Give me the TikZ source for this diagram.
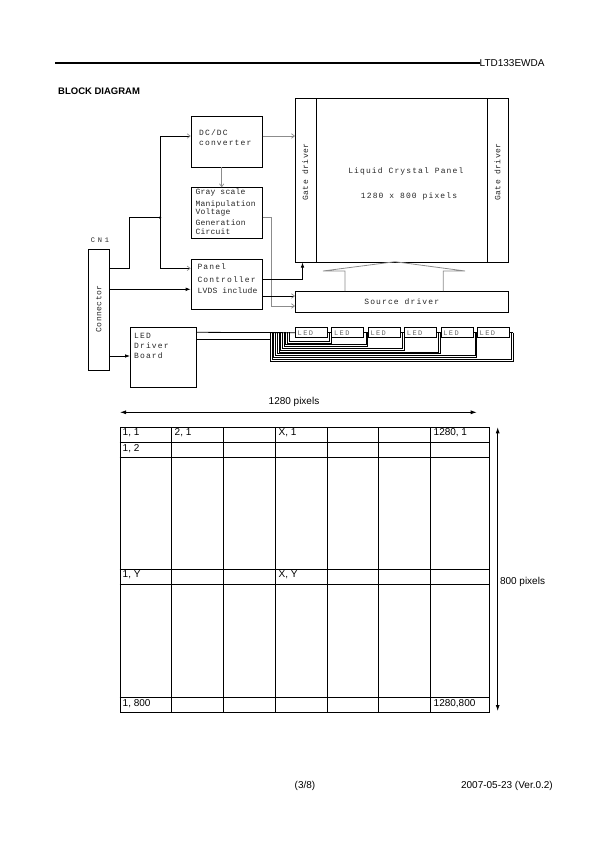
\documentclass[tikz,border=0pt]{standalone}
\usepackage{fontspec}
\setmainfont{Liberation Sans}
\newfontfamily\monowide[LetterSpace=14]{Liberation Mono}
\newfontfamily\monomid[LetterSpace=6]{Liberation Mono}
\newfontfamily\mononarrow[LetterSpace=3]{Liberation Mono}
\newfontfamily\monoled[LetterSpace=20]{Liberation Mono}
\newfontfamily\monocn[LetterSpace=40]{Liberation Mono}
\usetikzlibrary{arrows.meta}
\definecolor{lgray}{gray}{0.55}
\definecolor{txtc}{gray}{0.15}
\begin{document}
\begin{tikzpicture}[x=1pt,y=-1pt,
  blk/.style={draw=black,line width=0.8pt,inner sep=0pt,anchor=north west},
  ledbox/.style={blk,minimum width=32pt,minimum height=10pt},
  mw/.style={inner sep=0pt,anchor=west,text=txtc,font=\monowide\fontsize{8}{9}\selectfont},
  mm/.style={inner sep=0pt,anchor=center,text=txtc,font=\monomid\fontsize{8}{9}\selectfont},
  mn/.style={inner sep=0pt,anchor=west,text=txtc,font=\mononarrow\fontsize{8}{9}\selectfont},
  ledtxt/.style={inner sep=0pt,anchor=west,text=black!60,font=\monoled\fontsize{7}{8}\selectfont},
  ln/.style={line width=0.8pt},
  thinw/.style={line width=0.55pt},
  gln/.style={line width=0.8pt,draw=lgray},
  gtip/.style={-{Straight Barb[length=3pt,width=4.5pt,line width=0.7pt,color=lgray]}},
  btip/.style={-{Latex[length=5pt,width=3.6pt]}},
  dtip/.style={{Latex[length=6pt,width=4pt]}-{Latex[length=6pt,width=4pt]}},
  tline/.style={line width=0.8pt},
  tb/.style={inner sep=0pt,anchor=base west,font=\fontsize{10}{12}\selectfont},
  sf/.style={inner sep=0pt,font=\fontsize{10}{12}\selectfont}
]
\useasboundingbox (0,0) rectangle (595,842);

% header
\coordinate (hd1) at (55,63);
\node[sf,anchor=west] (hdr) at (479.5,63) {LTD133EWDA};
\draw[line width=1.6pt] (hd1) -- (hdr.west);
\node[inner sep=0pt,anchor=west,font=\bfseries\fontsize{9.5}{11}\selectfont] (title) at (58,91.5) {BLOCK DIAGRAM};

% blocks
\node[blk,minimum width=71pt,minimum height=50.7pt] (dcdc) at (190.7,116) {};
\node[blk,minimum width=71.3pt,minimum height=50.4pt] (gsv) at (190.7,187.3) {};
\node[blk,minimum width=71pt,minimum height=50pt] (ctrl) at (190.7,259) {};
\node[blk,minimum width=65.7pt,minimum height=59.4pt] (ledd) at (130,327.3) {};
\node[blk,minimum width=21pt,minimum height=121pt] (conn) at (88.3,249) {};
\node[blk,minimum width=213.3pt,minimum height=163.7pt] (panel) at (295,98) {};
\node[blk,minimum width=20.7pt,minimum height=163.7pt] (gateL) at (295,98) {};
\node[blk,minimum width=21.6pt,minimum height=163.7pt] (gateR) at (486.7,98) {};
\node[blk,minimum width=213.3pt,minimum height=21pt] (src) at (295,291) {};

% block texts
\node[mw] at (199,132.3) {DC/DC};
\node[mw] at (199,143.3) {converter};
\node[mn] at (195.3,192.7) {Gray scale};
\node[mn] at (195.3,204.3) {Manipulation};
\node[mn] at (195.3,212.3) {Voltage};
\node[mn] at (195.3,222.7) {Generation};
\node[mn] at (195.3,231.7) {Circuit};
\node[mw] at (197.3,266.7) {Panel};
\node[mw] at (197.3,280) {Controller};
\node[mn] at (197.3,291) {LVDS include};
\node[mw] at (134,336) {LED};
\node[mw] at (134,346) {Driver};
\node[mw] at (134,356) {Board};
\node[mm,rotate=90] at (98.8,309) {Connector};
\node[inner sep=0pt,text=txtc,font=\monocn\fontsize{7}{8}\selectfont] at (100,240) {CN1};
\node[mm,rotate=90] at (305.3,172) {Gate driver};
\node[mm,rotate=90] at (497.6,172) {Gate driver};
\node[mw,anchor=center] at (405.8,171.7) {Liquid Crystal Panel};
\node[mw,anchor=center] at (409,196.7) {1280 x 800 pixels};
\node[mw,anchor=center] at (401.7,301.5) {Source driver};

% connectors
\coordinate (jn) at (160,217.7);
\draw[ln] (conn.east |- 0,268.3) -- (129.3,268.3) -- (129.3,217.7) -- (jn);
\fill (jn) circle (1.3pt);
\draw[ln,gtip] (jn) -- (160,136) -- (dcdc.west |- 0,136);
\draw[ln,gtip] (jn) -- (160,268.3) -- (ctrl.west |- 0,268.3);
\draw[gln,gtip] (dcdc.east |- 0,136) -- (panel.west |- 0,136);
\draw[gln,gtip] (dcdc.south -| 221.7,0) -- (gsv.north -| 221.7,0);
\draw[gln,gtip] (gsv.east |- 0,217.7) -- (271.7,217.7) -- (271.7,306) -- (src.west |- 0,306);
\draw[ln,btip] (ctrl.east |- 0,279) -- (302.5,279) -- (panel.south -| 302.5,0);
\draw[ln,gtip] (ctrl.east |- 0,296) -- (src.west |- 0,296);
\draw[ln,btip] (conn.east |- 0,289.3) -- (ctrl.west |- 0,289.3);
\draw[ln,btip] (conn.east |- 0,356) -- (ledd.west |- 0,356);

% block arrow from source driver to panel
\draw[gln] (src.north -| 345,0) -- (345,271) -- (323,271) -- (395,261.7) -- (465,271) -- (443.3,271) -- (src.north -| 443.3,0);

% LED strips
\foreach \k in {1,...,6} {
  \pgfmathsetmacro\xl{295+(\k-1)*36.4}
  \node[ledbox] (led\k) at (\xl,327.3) {};
  \node[ledtxt] at ([xshift=2.5pt]led\k.west) {LED};
}
\coordinate (bund) at (270.3,339.3);
\draw[ln] (ledd.east |- 0,332.3) -- (led1.west);
\draw[ln] (ledd.east |- 0,339.3) -- (bund);
\foreach \k [evaluate=\k as \n using int(\k+1)] in {1,...,5} {
  \draw[thinw] (led\k.east) -- (led\n.west);
}
\draw[thinw] (led6.east) -- ++(3.2,0);
\foreach \k in {1,...,6} {
  \pgfmathsetmacro\ya{341+3.6*(\k-1)}
  \pgfmathsetmacro\yb{342.8+3.6*(\k-1)}
  \pgfmathsetmacro\xa{289-3.4*(\k-1)}
  \pgfmathsetmacro\xb{287.3-3.4*(\k-1)}
  \draw[thinw] ([xshift=1.6pt]led\k.east) -- ([xshift=1.6pt]led\k.east |- 0,\ya) -- (\xa,\ya) -- (\xa,332.3);
  \draw[thinw] ([xshift=3.2pt]led\k.east) -- ([xshift=3.2pt]led\k.east |- 0,\yb) -- (\xb,\yb) -- (\xb,332.3);
}

% pixel table
\coordinate (hl) at (120,412.3);
\coordinate (hr) at (476.7,412.3);
\draw[line width=0.8pt,dtip] (hl) -- (hr);
\node[sf] at (294,402.3) {1280 pixels};
\coordinate (vt) at (497.7,427.3);
\coordinate (vb) at (497.7,711);
\draw[line width=0.8pt,dtip] (vt) -- (vb);
\node[sf,anchor=west] at (499.8,582) {800 pixels};

\node[draw,line width=0.8pt,inner sep=0pt,anchor=north west,minimum width=369.5pt,minimum height=285pt] (tbl) at (119.5,427.3) {};
\foreach \x in {171.5,223.5,275.5,327,378.8,430.5} \draw[tline] (\x,427.3) -- (\x,712.3);
\foreach \y in {442.7,457.3,569.3,584.3,697.3} \draw[tline] (119.5,\y) -- (489,\y);

\node[tb] at (122.5,435.8) {1, 1};
\node[tb] at (174.5,435.8) {2, 1};
\node[tb] at (278.5,435.8) {X, 1};
\node[tb] at (433.5,435.8) {1280, 1};
\node[tb] at (122.5,451) {1, 2};
\node[tb] at (122.5,577.8) {1, Y};
\node[tb] at (278.5,577.8) {X, Y};
\node[tb] at (122.5,706) {1, 800};
\node[tb] at (433.5,706) {1280,800};

% footer
\node[sf] at (305,786) {(3/8)};
\node[sf,anchor=east] at (553,786) {2007-05-23 (Ver.0.2)};
\end{tikzpicture}
\end{document}
